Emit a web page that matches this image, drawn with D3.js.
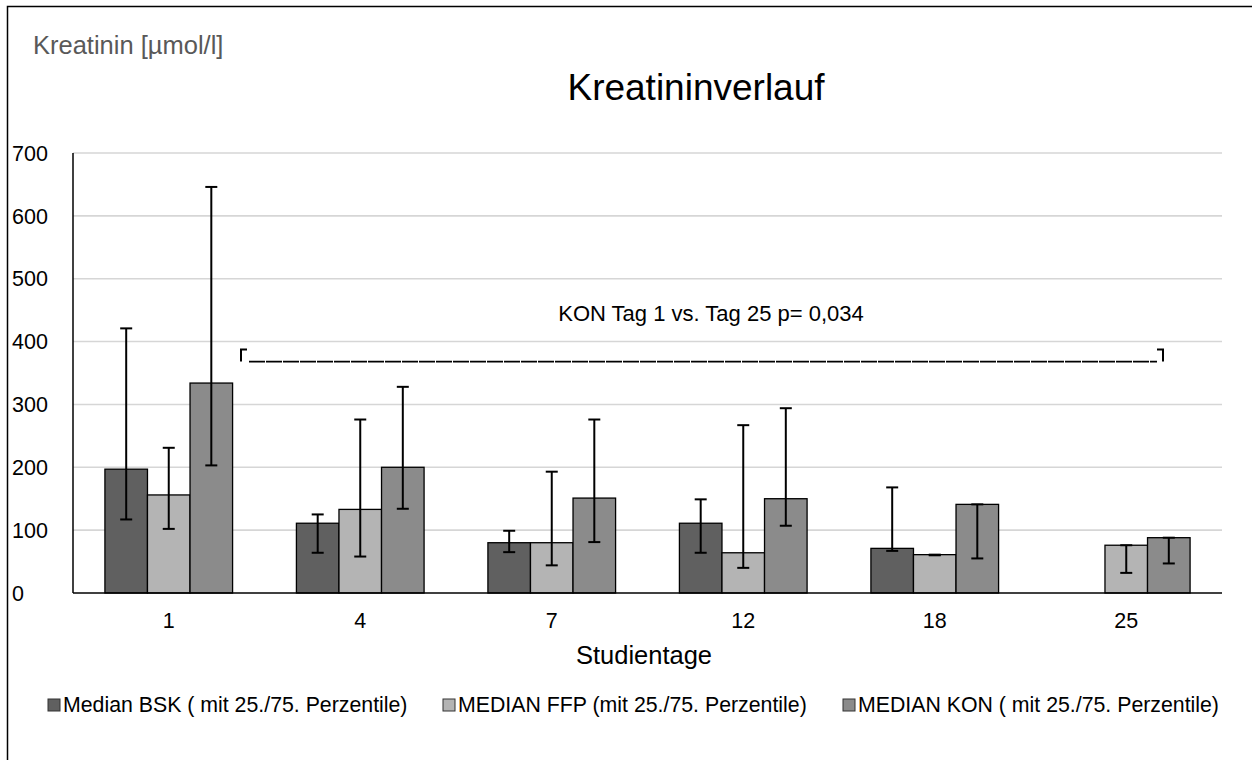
<!DOCTYPE html>
<html>
<head>
<meta charset="utf-8">
<script src="https://cdn.jsdelivr.net/npm/d3@7/dist/d3.min.js"></script>
<style>
  html, body { margin: 0; padding: 0; background: #fff; }
  svg { display: block; }
  text { font-family: "Liberation Sans", Arial, sans-serif; }
</style>
</head>
<body>
<svg id="chart" width="1252" height="760"></svg>
<script>
// Studientage (x categories)
const days = ["1", "4", "7", "12", "18", "25"];

// Series names as shown in the legend
const seriesNames = [
  "Median BSK ( mit 25./75. Perzentile)",
  "MEDIAN FFP (mit 25./75. Perzentile)",
  "MEDIAN KON ( mit 25./75. Perzentile)"
];

// Kreatinin medians and 25./75. percentiles per study day [µmol/l]
const bskMedian = [197, 111, 80, 111, 71, null];
const bskP25    = [117,  64, 65,  64, 67, null];
const bskP75    = [421, 125, 99, 149, 168, null];

const ffpMedian = [156, 133,  80,  64, 61, 76];
const ffpP25    = [102,  58,  44,  40, 60, 32];
const ffpP75    = [231, 276, 193, 267, 61, 76];

const konMedian = [334, 200, 151, 150, 141, 88];
const konP25    = [203, 134,  81, 107,  55, 47];
const konP75    = [646, 328, 276, 294, 141, 88];

const yTicks = [0, 100, 200, 300, 400, 500, 600, 700];

const seriesColors = ["#606060", "#b4b4b4", "#8b8b8b"];

// Combine into rows for drawing
const series = [
  { name: seriesNames[0], med: bskMedian, lo: bskP25, hi: bskP75 },
  { name: seriesNames[1], med: ffpMedian, lo: ffpP25, hi: ffpP75 },
  { name: seriesNames[2], med: konMedian, lo: konP25, hi: konP75 }
];
const rows = [];
series.forEach((s, si) => {
  days.forEach((d, di) => {
    if (s.med[di] != null) {
      rows.push({ day: d, si, name: s.name, med: s.med[di], lo: s.lo[di], hi: s.hi[di] });
    }
  });
});

const svg = d3.select("#chart");

const plot = { left: 73, right: 1222, top: 153, bottom: 593 };

const y = d3.scaleLinear().domain([0, 700]).range([plot.bottom, plot.top]);
const x0 = d3.scaleBand().domain(days).range([plot.left, plot.right])
  .paddingInner(1 / 3).paddingOuter(1 / 6);
const x1 = d3.scaleBand().domain(d3.range(series.length)).range([0, x0.bandwidth()]);

// Outer frame (left and top edges)
svg.append("path")
  .attr("d", "M7.5,760 V6.5 H1252")
  .attr("fill", "none").attr("stroke", "#000").attr("stroke-width", 1.5);

// Gridlines
svg.append("g")
  .selectAll("line")
  .data(yTicks.filter(t => t > 0))
  .join("line")
  .attr("x1", plot.left).attr("x2", plot.right)
  .attr("y1", d => y(d)).attr("y2", d => y(d))
  .attr("stroke", "#d6d6d6").attr("stroke-width", 1.6);

// Y tick labels
svg.append("g")
  .selectAll("text")
  .data(yTicks)
  .join("text")
  .attr("x", 12)
  .attr("y", d => y(d))
  .attr("dy", "0.36em")
  .attr("font-size", 21.5)
  .attr("fill", "#000")
  .text(d => d);

// Bars
svg.append("g")
  .selectAll("rect")
  .data(rows)
  .join("rect")
  .attr("x", d => x0(d.day) + x1(d.si))
  .attr("width", x1.bandwidth())
  .attr("y", d => y(d.med))
  .attr("height", d => y(0) - y(d.med))
  .attr("fill", d => seriesColors[d.si])
  .attr("stroke", "#000")
  .attr("stroke-width", 1.3);

// Error bars (25./75. Perzentile)
const capW = 12;
const eb = svg.append("g").attr("stroke", "#000").attr("stroke-width", 2);
rows.forEach(d => {
  const cx = x0(d.day) + x1(d.si) + x1.bandwidth() / 2;
  eb.append("line").attr("x1", cx).attr("x2", cx).attr("y1", y(d.lo)).attr("y2", y(d.hi));
  eb.append("line").attr("x1", cx - capW / 2).attr("x2", cx + capW / 2).attr("y1", y(d.lo)).attr("y2", y(d.lo));
  eb.append("line").attr("x1", cx - capW / 2).attr("x2", cx + capW / 2).attr("y1", y(d.hi)).attr("y2", y(d.hi));
});

// Axes lines
svg.append("line")
  .attr("x1", plot.left).attr("x2", plot.right)
  .attr("y1", y(0)).attr("y2", y(0))
  .attr("stroke", "#000").attr("stroke-width", 1.5);
svg.append("line")
  .attr("x1", plot.left).attr("x2", plot.left)
  .attr("y1", y(0)).attr("y2", y(700))
  .attr("stroke", "#000").attr("stroke-width", 1.5);

// X tick labels
svg.append("g")
  .selectAll("text")
  .data(days)
  .join("text")
  .attr("x", d => x0(d) + x0.bandwidth() / 2)
  .attr("y", 628)
  .attr("text-anchor", "middle")
  .attr("font-size", 21.5)
  .attr("fill", "#000")
  .text(d => d);

// X axis title
svg.append("text")
  .attr("x", 644).attr("y", 664)
  .attr("text-anchor", "middle")
  .attr("font-size", 25.5)
  .text("Studientage");

// Y axis title
svg.append("text")
  .attr("x", 33).attr("y", 54)
  .attr("font-size", 25.5)
  .attr("fill", "#595959")
  .text("Kreatinin [µmol/l]");

// Chart title
svg.append("text")
  .attr("x", 696).attr("y", 100)
  .attr("text-anchor", "middle")
  .attr("font-size", 37)
  .text("Kreatininverlauf");

// Significance annotation: KON day 1 vs. day 25
const bx1 = 241, bx2 = 1163;
const bTop = y(400) + 8, bBot = y(400) + 20;
svg.append("text")
  .attr("x", 711).attr("y", 321)
  .attr("text-anchor", "middle")
  .attr("font-family", "Lato, 'Open Sans', sans-serif")
  .attr("font-size", 22)
  .text("KON Tag 1 vs. Tag 25 p= 0,034");
svg.append("path")
  .attr("d", `M${bx1},${bBot} V${bTop} H${bx1 + 6}`)
  .attr("fill", "none").attr("stroke", "#000").attr("stroke-width", 2);
svg.append("path")
  .attr("d", `M${bx2},${bBot} V${bTop} H${bx2 - 6}`)
  .attr("fill", "none").attr("stroke", "#000").attr("stroke-width", 2);
svg.append("line")
  .attr("x1", bx1 + 8).attr("x2", bx2 - 6)
  .attr("y1", bBot).attr("y2", bBot)
  .attr("stroke", "#000").attr("stroke-width", 1.7)
  .attr("stroke-dasharray", "16,1");

// Legend
const legendX = [48, 443, 843];
const lg = svg.append("g");
seriesNames.forEach((name, i) => {
  lg.append("rect")
    .attr("x", legendX[i]).attr("y", 699)
    .attr("width", 12).attr("height", 12)
    .attr("fill", seriesColors[i])
    .attr("stroke", "#333").attr("stroke-width", 1);
  lg.append("text")
    .attr("x", legendX[i] + 15).attr("y", 712)
    .attr("font-size", 21.3)
    .attr("fill", "#000")
    .text(name);
});
</script>
</body>
</html>
